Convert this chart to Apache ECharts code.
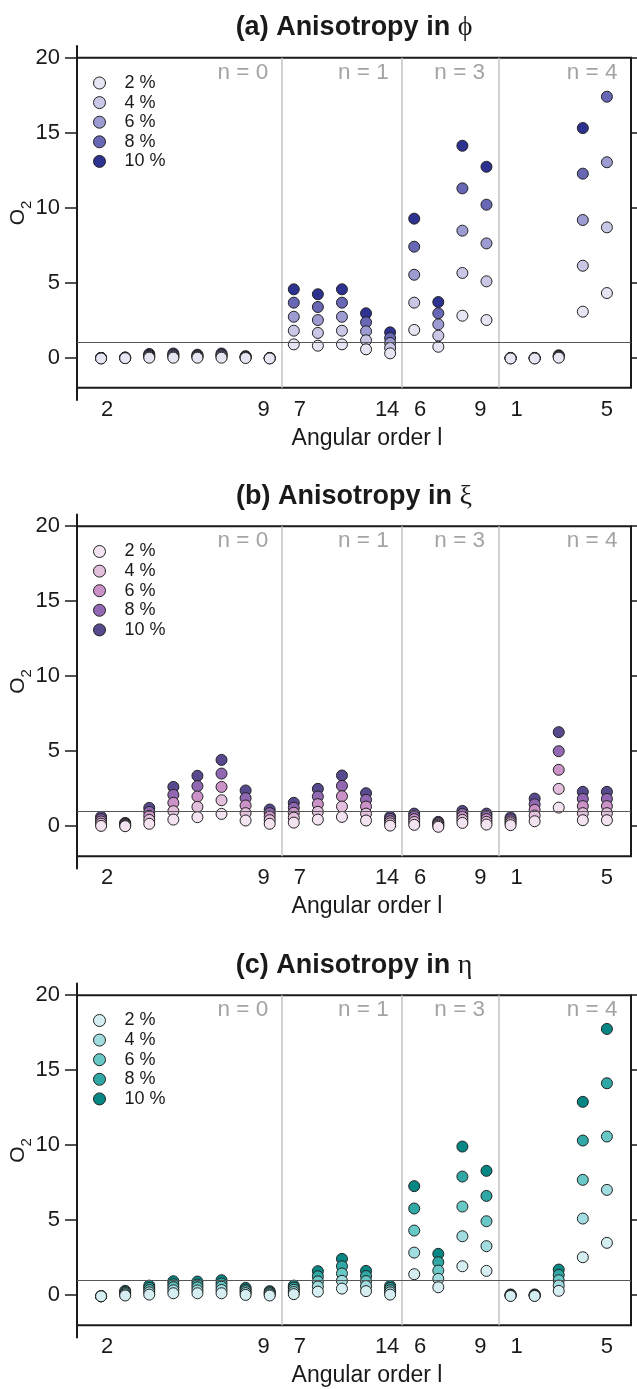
<!DOCTYPE html>
<html>
<head>
<meta charset="utf-8">
<script src="https://cdn.jsdelivr.net/npm/echarts@6/dist/echarts.min.js"></script>
<style>html,body{margin:0;padding:0;background:#fff;}#c{width:637px;height:1389px;}</style>
</head>
<body>
<div id="c"></div>
<script>
// ---------- data ----------
const levels = ['2 %', '4 %', '6 %', '8 %', '10 %'];
const modeLabels = ['n = 0', 'n = 1', 'n = 3', 'n = 4'];
const groupSizes = [8, 5, 4, 5];
const tickLabels = ['2', '9', '7', '14', '6', '9', '1', '5'];
const yTicks = [0, 5, 10, 15, 20];

// (a) anisotropy in phi, one array per level, 22 modes each
const phi_2  = [-0.05, -0.03, 0.00, 0.00, 0.00, 0.00, -0.02, -0.05, 0.89, 0.80, 0.89, 0.56, 0.29, 1.85, 0.73, 2.80, 2.51, -0.05, -0.05, 0.00, 3.07, 4.31];
const phi_4  = [-0.04, -0.02, 0.06, 0.07, 0.05, 0.07, 0.01, -0.04, 1.80, 1.65, 1.80, 1.16, 0.65, 3.67, 1.47, 5.65, 5.09, -0.04, -0.04, 0.04, 6.13, 8.69];
const phi_6  = [-0.03, -0.01, 0.12, 0.14, 0.10, 0.14, 0.04, -0.03, 2.73, 2.51, 2.73, 1.76, 0.98, 5.53, 2.22, 8.47, 7.62, -0.03, -0.03, 0.08, 9.18, 13.03];
const phi_8  = [-0.02, 0.00, 0.18, 0.21, 0.15, 0.21, 0.07, -0.02, 3.67, 3.38, 3.67, 2.36, 1.31, 7.40, 2.96, 11.29, 10.20, -0.02, -0.02, 0.12, 12.27, 17.40];
const phi_10 = [-0.01, 0.02, 0.25, 0.28, 0.20, 0.28, 0.10, -0.01, 4.56, 4.23, 4.56, 2.96, 1.69, 9.27, 3.71, 14.13, 12.73, -0.01, -0.01, 0.16, 15.31, 21.70];

// (b) anisotropy in xi
const xi_2  = [0.02, 0.00, 0.16, 0.44, 0.60, 0.82, 0.38, 0.16, 0.24, 0.44, 0.62, 0.38, 0.04, 0.09, -0.04, 0.22, 0.11, 0.07, 0.33, 1.24, 0.40, 0.40];
const xi_4  = [0.17, 0.05, 0.42, 1.00, 1.29, 1.73, 0.87, 0.40, 0.57, 0.96, 1.31, 0.84, 0.19, 0.28, 0.04, 0.42, 0.29, 0.20, 0.71, 2.49, 0.87, 0.87];
const xi_6  = [0.32, 0.11, 0.69, 1.56, 1.98, 2.62, 1.38, 0.64, 0.90, 1.47, 2.00, 1.31, 0.33, 0.47, 0.12, 0.62, 0.47, 0.32, 1.09, 3.76, 1.34, 1.34];
const xi_8  = [0.47, 0.16, 0.95, 2.09, 2.67, 3.51, 1.87, 0.87, 1.23, 1.98, 2.69, 1.76, 0.48, 0.65, 0.21, 0.82, 0.66, 0.45, 1.46, 5.00, 1.82, 1.82];
const xi_10 = [0.62, 0.22, 1.22, 2.62, 3.36, 4.42, 2.38, 1.11, 1.56, 2.49, 3.38, 2.20, 0.62, 0.84, 0.29, 1.02, 0.84, 0.58, 1.84, 6.27, 2.29, 2.29];

// (c) anisotropy in eta
const eta_2  = [-0.07, -0.02, 0.04, 0.13, 0.13, 0.13, 0.02, -0.02, 0.07, 0.24, 0.44, 0.27, 0.04, 1.40, 0.53, 1.93, 1.62, -0.05, -0.05, 0.29, 2.53, 3.49];
const eta_4  = [-0.07, 0.06, 0.19, 0.33, 0.32, 0.35, 0.14, 0.05, 0.21, 0.58, 0.96, 0.61, 0.19, 2.84, 1.09, 3.93, 3.27, -0.03, -0.03, 0.64, 5.11, 7.02];
const eta_6  = [-0.07, 0.14, 0.34, 0.53, 0.52, 0.57, 0.26, 0.13, 0.36, 0.92, 1.45, 0.94, 0.33, 4.31, 1.64, 5.91, 4.93, 0.00, 0.00, 1.00, 7.69, 10.58];
const eta_8  = [-0.07, 0.21, 0.49, 0.73, 0.71, 0.78, 0.37, 0.20, 0.50, 1.26, 1.93, 1.28, 0.48, 5.78, 2.20, 7.91, 6.62, 0.02, 0.02, 1.35, 10.31, 14.13];
const eta_10 = [-0.07, 0.29, 0.64, 0.93, 0.91, 1.00, 0.49, 0.27, 0.64, 1.60, 2.42, 1.62, 0.62, 7.27, 2.76, 9.91, 8.29, 0.05, 0.05, 1.71, 12.89, 17.75];

// ---------- layout / style ----------
const FONT = 'Liberation Sans';
const INK = '#1a1a1a';
const tickPositions = [0.25, 6.75, 8.25, 11.875, 13.25, 15.75, 17.25, 21];
const panels = [
  {title: '(a) Anisotropy in ', greek: 'ϕ', key: 'a', offset: 0,
   colors: ['#e6e5f4', '#c8c7e6', '#9c9bd2', '#6867b5', '#2d3290'],
   values: [phi_2, phi_4, phi_6, phi_8, phi_10]},
  {title: '(b) Anisotropy in ', greek: 'ξ', key: 'b', offset: 468.5,
   colors: ['#f3e2f0', '#e2bfdd', '#cb92c8', '#9268b3', '#58498f'],
   values: [xi_2, xi_4, xi_6, xi_8, xi_10]},
  {title: '(c) Anisotropy in ', greek: 'η', key: 'c', offset: 937.5,
   colors: ['#d4eef2', '#a1dce0', '#67c8c6', '#2fa8a5', '#078784'],
   values: [eta_2, eta_4, eta_6, eta_8, eta_10]}
];

// group boundaries in mode-index units
const bounds = [];
{ let acc = 0; groupSizes.forEach(s => { acc += s; bounds.push(acc - 0.5); }); }
bounds[bounds.length - 1] = 22;

const option = {
  animation: false, backgroundColor: '#fff',
  textStyle: {fontFamily: FONT, color: INK},
  title: [], grid: [], xAxis: [], yAxis: [], legend: [], series: []
};

panels.forEach((p, i) => {
  const o = p.offset;
  option.title.push({
    text: '{t|' + p.title + '}{g|' + p.greek + '}',
    left: 354, top: 13 + o, textAlign: 'center', padding: 0,
    textStyle: {rich: {
      t: {fontFamily: FONT, fontWeight: 'bold', fontSize: 27, color: INK, lineHeight: 30},
      g: {fontFamily: 'Liberation Serif', fontWeight: 'normal', fontSize: 28, color: INK, lineHeight: 30}
    }}
  });
  option.grid.push({left: 77, right: 6, top: 57.7 + o, height: 330, show: true,
    containLabel: false, outerBoundsMode: 'none',
    borderColor: INK, borderWidth: 2, backgroundColor: 'transparent'});
  option.grid.push({left: 77, right: 6, top: 46 + o, height: 354,
    containLabel: false, outerBoundsMode: 'none'});

  option.xAxis.push({
    gridIndex: 2 * i, type: 'value', min: -1, max: 22,
    axisLine: {show: false, onZero: false}, axisTick: {show: false}, splitLine: {show: false},
    axisLabel: {customValues: tickPositions, fontSize: 22, color: INK, margin: 11,
      formatter: v => { const k = tickPositions.findIndex(t => Math.abs(t - v) < 1e-6); return k >= 0 ? tickLabels[k] : ''; }},
    name: 'Angular order l', nameLocation: 'middle', nameGap: 39,
    nameTextStyle: {fontSize: 23, color: INK, fontFamily: FONT, padding: [0, 0, 0, 26]}
  });
  option.xAxis.push({gridIndex: 2 * i + 1, type: 'value', min: -1, max: 22, show: false});

  option.yAxis.push({gridIndex: 2 * i, type: 'value', min: -2, max: 20,
    axisLine: {show: false, onZero: false}, axisTick: {show: false}, axisLabel: {show: false}, splitLine: {show: false}});
  option.yAxis.push({gridIndex: 2 * i, type: 'value', position: 'right', min: -2, max: 20,
    axisLine: {show: false, onZero: false}, splitLine: {show: false}, axisLabel: {show: false},
    axisTick: {show: true, inside: false, length: 8, customValues: yTicks, lineStyle: {color: INK, width: 1.5}}});
  option.yAxis.push({gridIndex: 2 * i + 1, type: 'value', position: 'left', min: -2.82, max: 20.78,
    axisLine: {show: true, onZero: false, lineStyle: {color: INK, width: 2}}, splitLine: {show: false},
    axisTick: {show: true, length: 12, customValues: yTicks, lineStyle: {color: INK, width: 1.5}},
    axisLabel: {customValues: yTicks, fontSize: 22, color: INK, margin: 17},
    name: '{o|O}{s|2}', nameLocation: 'middle', nameRotate: 90, nameGap: 48, nameMoveOverlap: false,
    nameTextStyle: {padding: [0, 0, 0, 20], rich: {
      o: {fontSize: 21, color: INK, fontFamily: FONT, verticalAlign: 'bottom', lineHeight: 22},
      s: {fontSize: 15, color: INK, fontFamily: FONT, verticalAlign: 'bottom', lineHeight: 14, padding: [0, 0, -5, 0]}
    }}
  });

  // legend (lightest first)
  option.legend.push({
    data: levels.map(l => l + '|' + p.key),
    formatter: n => n.split('|')[0],
    left: 88, top: 69 + o, orient: 'vertical', icon: 'circle',
    itemWidth: 40, itemHeight: 12, itemGap: 1.6, selectedMode: false,
    itemStyle: {borderWidth: 1, borderColor: '#222'},
    textStyle: {fontSize: 18, color: INK, fontFamily: FONT, lineHeight: 17}
  });

  // points: darkest drawn first so lighter circles sit on top
  for (let k = levels.length - 1; k >= 0; k--) {
    option.series.push({
      type: 'scatter', name: levels[k] + '|' + p.key,
      xAxisIndex: 2 * i, yAxisIndex: 3 * i,
      symbol: 'circle', symbolSize: 11, clip: true,
      itemStyle: {color: p.colors[k], borderColor: '#222', borderWidth: 1, opacity: 1},
      emphasis: {disabled: true}, silent: true,
      data: p.values[k].map((v, j) => [j, v])
    });
  }

  // n = ... labels and group separators
  option.series.push({
    type: 'scatter', xAxisIndex: 2 * i, yAxisIndex: 3 * i, symbolSize: 0, silent: true,
    data: bounds.map(b => [b - 0.56, 19]),
    label: {show: true, position: 'left', distance: 0, formatter: q => modeLabels[q.dataIndex],
      color: '#8c8c8c', fontSize: 22.5, fontFamily: FONT},
    markLine: {silent: true, symbol: 'none', label: {show: false},
      lineStyle: {color: '#c4c4c4', width: 1.5, type: 'solid'},
      data: bounds.slice(0, -1).map(b => ({xAxis: b}))}
  });
  option.series.push({
    type: 'scatter', xAxisIndex: 2 * i, yAxisIndex: 3 * i, symbolSize: 0, silent: true, data: [],
    markLine: {silent: true, symbol: 'none', label: {show: false},
      lineStyle: {color: '#555', width: 1, type: 'solid'}, data: [{yAxis: 1}]}
  });
});

const chart = echarts.init(document.getElementById('c'), null, {renderer: 'canvas', width: 637, height: 1389});
chart.setOption(option);
</script>
</body>
</html>
